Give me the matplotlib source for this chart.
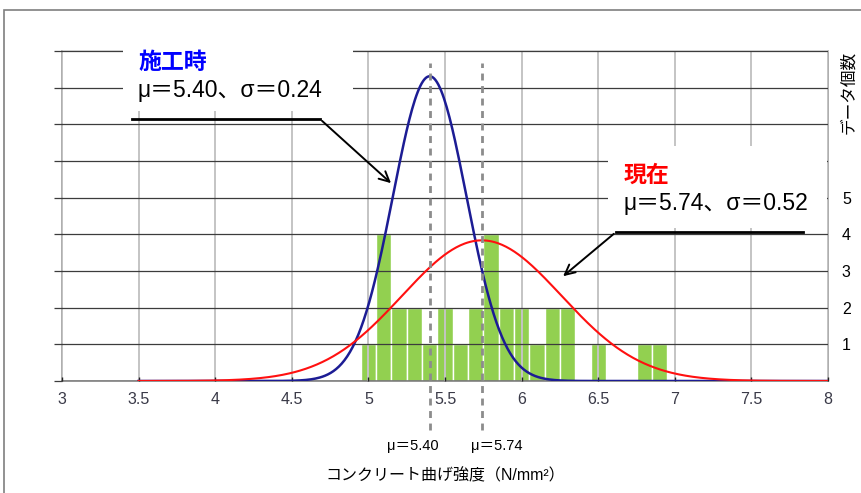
import numpy as np
import matplotlib
matplotlib.use('Agg')
import matplotlib.pyplot as plt
from matplotlib.patches import Rectangle

plt.rcParams['font.family'] = ['Liberation Sans', 'Noto Sans CJK JP', 'DejaVu Sans']

# 曲げ強度のヒストグラム (0.1 刻みの階級中心と度数)
bin_centers = [5.0, 5.1, 5.2, 5.3, 5.4, 5.5, 5.6, 5.7, 5.8, 5.9,
               6.0, 6.1, 6.2, 6.3, 6.4, 6.5, 6.6, 6.7, 6.8, 6.9]
counts = [1, 4, 2, 2, 1, 2, 1, 2, 4, 2,
          2, 1, 2, 2, 0, 1, 0, 0, 1, 1]

# 正規分布のパラメータ
mu_build, sigma_build = 5.40, 0.24   # 施工時
mu_now, sigma_now = 5.74, 0.52       # 現在
curve_scale = 5.0

x_ticks = [3, 3.5, 4, 4.5, 5, 5.5, 6, 6.5, 7, 7.5, 8]
x_ticklabels = ['3', '3.5', '4', '4.5', '5', '5.5', '6', '6.5', '7', '7.5', '8']
y_ticks = [0, 1, 2, 3, 4, 5, 6, 7, 8, 9]
y_ticklabels = ['', '1', '2', '3', '4', '5', '', '', '', '']


def normal_curve(x, mu, sigma):
    return curve_scale * np.exp(-0.5 * ((x - mu) / sigma) ** 2) / (sigma * np.sqrt(2 * np.pi))


fig = plt.figure(figsize=(8.61, 4.93), dpi=100)
ax = fig.add_axes([62 / 861, 1 - 381 / 493, 766 / 861, 330 / 493])

# 外枠
fig.patches.append(Rectangle((4 / 861, -0.5), 2, 1 - 10 / 493 + 0.5, transform=fig.transFigure,
                             fill=False, edgecolor='#7f7f7f', lw=1.2))

ax.bar(bin_centers, counts, width=0.1, color='#92d050', edgecolor='white', linewidth=1.0, zorder=1)

xs = np.linspace(3.5, 8, 500)
ax.plot(xs, normal_curve(xs, mu_build, sigma_build), color='#1c1c94', lw=1.8, zorder=3)
ax.plot(xs, normal_curve(xs, mu_now, sigma_now), color='#ff1010', lw=1.5, zorder=3.2)

# 平均値の破線
for m in [mu_build, mu_now]:
    ax.plot([m, m], [-1.34, 8.67], color='#8c8c8c', lw=2, ls=(0, (2.5, 2)), clip_on=False, zorder=3.5)
ax.text(5.29, -1.77, 'μ＝%.2f' % mu_build, ha='center', va='center', fontsize=10.5)
ax.text(5.84, -1.77, 'μ＝%.2f' % mu_now, ha='center', va='center', fontsize=10.5)

ax.set_xlim(3, 8)
ax.set_ylim(0, 9)
ax.set_xticks(x_ticks)
ax.set_xticklabels(x_ticklabels)
ax.set_yticks(y_ticks)
ax.set_yticklabels(y_ticklabels)

ax.set_axisbelow(False)
ax.xaxis.grid(True, color='#c4c4c4', lw=1.4)
ax.yaxis.grid(True, color='#3c3c3c', lw=0.9)

ax.tick_params(axis='x', direction='in', length=3, width=1, color='#222222',
               labelsize=11.5, labelcolor='#3a3a48', pad=8)
ax.tick_params(axis='y', left=True, right=False, labelleft=False, labelright=True,
               direction='out', length=6, width=0.9, color='#3c3c3c', labelsize=11.5, pad=4)

for side, c in [('left', '#a0a0a0'), ('bottom', '#808080'), ('right', '#a0a0a0'), ('top', '#c4c4c4')]:
    ax.spines[side].set_color(c)
    ax.spines[side].set_linewidth(1.2)

ax.text(1.026, 1.0, 'データ個数', transform=ax.transAxes, rotation=90, ha='center', va='top', fontsize=12)
ax.set_xlabel('コンクリート曲げ強度（N/mm²）', fontsize=11.5, labelpad=44)

# 注記用の白い背景
ax.add_patch(Rectangle((3.398, 7.36), 1.50, 2.0, facecolor='white', edgecolor='none', clip_on=False, zorder=4))
ax.add_patch(Rectangle((6.564, 4.17), 1.43, 2.25, facecolor='white', edgecolor='none', clip_on=False, zorder=4))

ax.text(3.496, 8.70, '施工時', color='#0000ff', fontweight='bold', fontsize=16.5, va='center', zorder=5)
ax.text(3.496, 7.91, 'μ＝%.2f、σ＝%.2f' % (mu_build, sigma_build), fontsize=16.5, va='center', zorder=5)
ax.text(6.668, 5.62, '現在', color='#ff0000', fontweight='bold', fontsize=16.5, va='center', zorder=5)
ax.text(6.668, 4.83, 'μ＝%.2f、σ＝%.2f' % (mu_now, sigma_now), fontsize=16.5, va='center', zorder=5)

# 引出線
ax.plot([3.457, 4.684], [7.145, 7.145], color='black', lw=2.0, zorder=5, clip_on=False)
ax.annotate('', xy=(5.161, 5.345), xytext=(4.684, 7.145),
            arrowprops=dict(arrowstyle='->', color='black', lw=1.4, mutation_scale=18), zorder=5)
ax.plot([6.616, 7.837], [4.063, 4.063], color='black', lw=2.0, zorder=5)
ax.annotate('', xy=(6.257, 2.809), xytext=(6.616, 4.063),
            arrowprops=dict(arrowstyle='->', color='black', lw=1.4, mutation_scale=18), zorder=5)

fig.savefig('out.png', dpi=100)
